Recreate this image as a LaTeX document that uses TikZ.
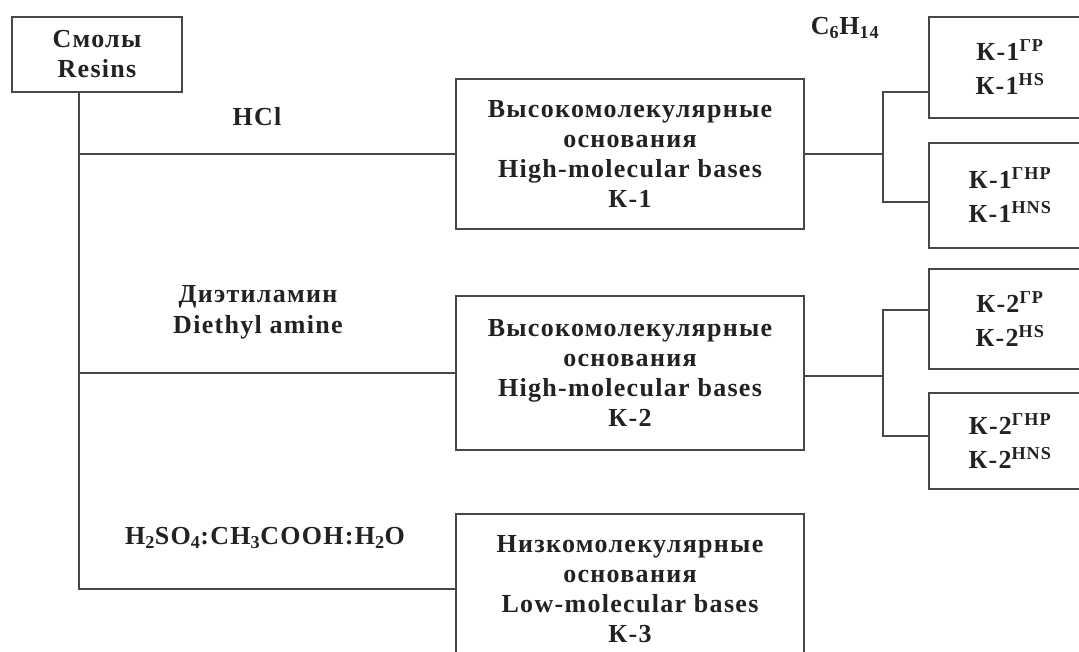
\documentclass[tikz,border=0pt]{standalone}
\usepackage{fontspec}
\setmainfont{Liberation Serif}[LetterSpace=5]
\usepackage{xcolor}
\usepackage{tikz}
\usetikzlibrary{positioning}

\definecolor{linegray}{HTML}{474747}
\definecolor{inkblack}{HTML}{222222}

\begin{document}
\begin{tikzpicture}[x=1pt, y=-1pt, line width=1.5pt,
    box/.style={draw=linegray, align=center, inner sep=0pt, text=inkblack,
        font=\bfseries\fontsize{26}{30}\selectfont},
    subbox/.style={box, minimum width=162, font=\bfseries\fontsize{26}{34}\selectfont},
    reagent/.style={align=center, text=inkblack, font=\bfseries\fontsize{26}{31}\selectfont}]
    \useasboundingbox (0,0) rectangle (1079,652);

    % Nodes
    \node (resins) [box, minimum width=170, minimum height=75] at (97,54.5) {Смолы\\Resins};
    \node (k1) [box, minimum width=348, minimum height=150] at (630,154) {Высокомолекулярные\\основания\\High-molecular bases\\К-1};
    \node (k2) [box, minimum width=348, minimum height=154] at (630,373) {Высокомолекулярные\\основания\\High-molecular bases\\К-2};
    \node (k3) [box, minimum width=348, minimum height=150] at (630,589) {Низкомолекулярные\\основания\\Low-molecular bases\\К-3};
    \node (k1hs) [subbox, minimum height=101] at (1010,67.5) {К-1\textsuperscript{ГР}\\К-1\textsuperscript{HS}};
    \node (k1hns) [subbox, minimum height=105] at (1010,195.5) {К-1\textsuperscript{ГНР}\\К-1\textsuperscript{HNS}};
    \node (k2hs) [subbox, minimum height=100] at (1010,319) {К-2\textsuperscript{ГР}\\К-2\textsuperscript{HS}};
    \node (k2hns) [subbox, minimum height=96] at (1010,441) {К-2\textsuperscript{ГНР}\\К-2\textsuperscript{HNS}};
    % Reagents
    \node (hcl) [reagent] at (257,117) {HCl};
    \node (dea) [reagent] at (258,312) {Диэтиламин\\Diethyl amine};
    \node (acid) [reagent] at (265,538) {H\textsubscript{2}SO\textsubscript{4}:CH\textsubscript{3}COOH:H\textsubscript{2}O};
    \node (hex) [reagent] at (845,28) {C\textsubscript{6}H\textsubscript{14}};
    % Trunk
    \coordinate (trunk) at (79,92);
    \draw [linegray] (trunk) |- (k3.west);
    \draw [linegray] (trunk |- k1.west) -- (k1.west);
    \draw [linegray] (trunk |- k2.west) -- (k2.west);
    % Forks
    \coordinate (fork1) at (883,154);
    \coordinate (fork2) at (883,376);
    \draw [linegray] (k1.east) -- (fork1);
    \draw [linegray] (k1hs.west |- 0,92) -| (fork1) |- (k1hns.west |- 0,202);
    \draw [linegray] (k2.east |- fork2) -- (fork2);
    \draw [linegray] (k2hs.west |- 0,310) -| (fork2) |- (k2hns.west |- 0,436);
\end{tikzpicture}
\end{document}
